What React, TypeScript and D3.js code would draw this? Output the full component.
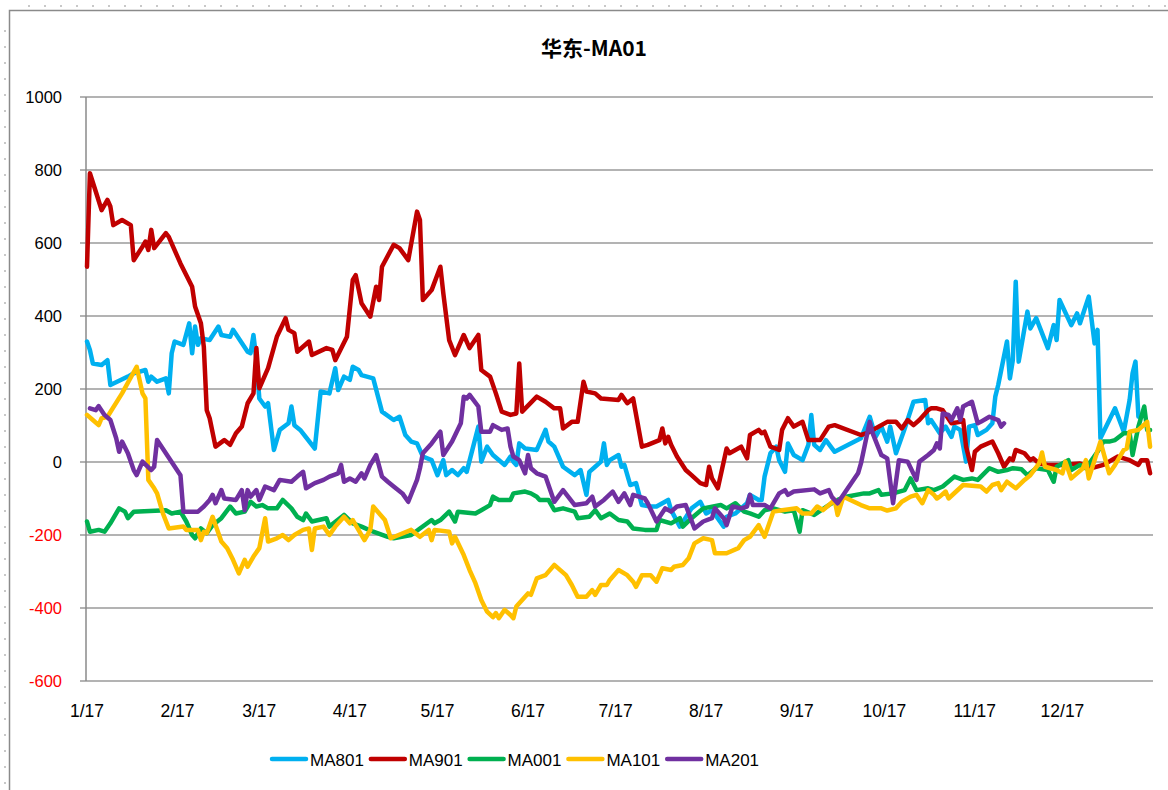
import React, { useEffect, useRef } from "react";
import * as d3 from "d3";

// day = days since 2017-01-01, value = spread
const ma801: [number, number][] = [
  [0, 330], [1, 307], [2, 270], [5, 266], [7, 279], [8, 211], [14, 234], [16, 243], [20, 252], [21, 220],
  [22, 234], [24, 220], [27, 229], [28, 188], [29, 298], [30, 330], [33, 321], [35, 380], [36, 298], [37, 371],
  [38, 321], [39, 339], [42, 334], [45, 371], [46, 348], [49, 343], [50, 362], [55, 302], [56, 298], [57, 348],
  [58, 279], [59, 174], [61, 152], [62, 161], [64, 33], [66, 88], [69, 106], [70, 152], [71, 101], [73, 88],
  [78, 37], [80, 193], [83, 188], [85, 257], [86, 197], [88, 234], [90, 225], [91, 261], [93, 252], [94, 238],
  [98, 229], [101, 138], [105, 115], [107, 124], [109, 74], [111, 56], [113, 51], [115, 15], [118, 5], [120, -36],
  [122, 5], [123, -36], [125, -22], [127, -36], [129, -17], [130, -27], [134, 97], [135, 1], [137, 42], [139, 19],
  [143, -8], [145, 15], [146, 1], [147, -8], [148, 51], [150, 37], [154, 33], [157, 88], [158, 56], [160, 42],
  [163, -13], [167, -36], [169, -22], [171, -90], [172, -27], [174, -13], [176, 1], [177, 51], [178, -8], [179, 5],
  [182, 19], [183, -13], [184, -8], [186, -63], [188, -58], [190, -118], [193, -122], [195, -122], [199, -104], [200, -132],
  [203, -177], [207, -127], [210, -109], [212, -141], [214, -132], [218, -177], [219, -150], [222, -141], [226, -113], [227, -90],
  [230, -104], [231, -104], [232, -40], [234, 24], [236, 42], [237, 5], [239, -27], [240, 51], [242, 19], [245, 5],
  [247, 47], [248, 129], [249, 47], [251, 33], [253, 60], [256, 28], [265, 65], [268, 124], [270, 69], [272, 97],
  [274, 56], [275, 97], [277, 24], [280, 92], [283, 165], [287, 170], [288, 106], [289, 115], [292, 79], [294, 97],
  [296, 69], [297, 97], [299, 88], [301, 1], [302, 97], [304, 101], [305, 74], [308, 88], [310, 106], [311, 179],
  [312, 211], [315, 330], [316, 229], [317, 279], [318, 494], [319, 275], [322, 412], [323, 366], [325, 394], [329, 312],
  [331, 375], [332, 334], [333, 444], [337, 375], [339, 407], [340, 380], [343, 453], [345, 325], [346, 362], [347, 65],
  [352, 147], [355, 83], [357, 170], [358, 243], [359, 275], [360, 124],
];

const ma901: [number, number][] = [
  [0, 535], [1, 791], [3, 741], [5, 690], [7, 718], [8, 700], [9, 649], [12, 663], [15, 649], [16, 553],
  [19, 590], [20, 604], [21, 581], [22, 636], [23, 586], [27, 627], [28, 617], [32, 544], [36, 480], [37, 426],
  [39, 380], [40, 316], [41, 142], [42, 120], [44, 42], [47, 60], [49, 47], [51, 79], [53, 97], [55, 161],
  [57, 188], [58, 312], [59, 202], [62, 257], [65, 343], [68, 394], [69, 362], [71, 353], [72, 302], [76, 330],
  [77, 293], [82, 312], [84, 307], [85, 279], [89, 343], [91, 499], [92, 512], [94, 435], [97, 398], [99, 480],
  [100, 444], [101, 535], [105, 595], [107, 586], [110, 553], [113, 686], [114, 663], [115, 444], [118, 471], [121, 535],
  [122, 462], [124, 334], [126, 293], [129, 348], [131, 312], [134, 348], [135, 252], [138, 234], [140, 188], [142, 138],
  [145, 129], [147, 133], [148, 270], [149, 138], [154, 179], [157, 165], [160, 147], [162, 147], [163, 92], [166, 110],
  [168, 110], [170, 220], [171, 193], [174, 188], [176, 174], [182, 170], [183, 184], [185, 161], [187, 174], [190, 42],
  [192, 47], [196, 60], [197, 92], [198, 51], [199, 69], [200, 47], [202, 15], [205, -22], [207, -36], [210, -58],
  [212, -63], [213, -13], [214, -45], [216, -72], [219, 37], [220, 24], [224, 42], [226, 10], [227, 74], [230, 88],
  [231, 79], [232, 83], [234, 42], [237, 33], [238, 88], [240, 120], [242, 97], [245, 110], [247, 60], [251, 60],
  [254, 97], [256, 101], [265, 74], [267, 79], [274, 110], [277, 110], [279, 92], [281, 115], [283, 101], [285, 115],
  [288, 142], [289, 147], [291, 147], [293, 142], [296, 106], [299, 110], [300, 115], [301, 42], [303, -22], [304, 28],
  [306, 42], [310, 56], [312, 24], [314, -13], [316, 10], [317, 5], [318, 33], [321, 24], [323, 5], [324, 10],
  [326, -4], [329, -8], [334, -8], [340, -4], [344, -17], [348, -8], [353, 15], [357, 5], [360, -8], [361, 5],
  [363, 5], [364, -31],
];

const ma001: [number, number][] = [
  [0, -163], [1, -191], [4, -186], [6, -191], [8, -168], [11, -127], [13, -136], [14, -154], [16, -136], [27, -132],
  [29, -141], [32, -136], [34, -163], [36, -200], [37, -209], [39, -182], [41, -195], [43, -173], [46, -154], [49, -122],
  [51, -141], [54, -136], [56, -109], [58, -122], [60, -118], [62, -127], [65, -127], [67, -104], [70, -127], [72, -150],
  [74, -159], [75, -141], [77, -163], [82, -154], [83, -177], [88, -145], [91, -168], [94, -177], [98, -191], [103, -205],
  [105, -209], [111, -200], [114, -182], [118, -159], [119, -168], [121, -159], [124, -136], [126, -163], [127, -136], [133, -141],
  [135, -132], [138, -118], [139, -95], [141, -104], [145, -104], [146, -86], [150, -81], [152, -86], [154, -95], [155, -104],
  [158, -104], [160, -132], [163, -127], [167, -136], [168, -154], [172, -150], [174, -132], [176, -154], [179, -141], [182, -159],
  [185, -163], [187, -182], [191, -186], [195, -186], [196, -159], [200, -168], [203, -154], [204, -177], [207, -154], [211, -127],
  [217, -118], [219, -127], [222, -113], [225, -136], [227, -141], [230, -150], [232, -132], [235, -127], [239, -136], [242, -132],
  [244, -191], [245, -132], [249, -145], [254, -118], [257, -104], [260, -95], [266, -86], [268, -86], [271, -77], [272, -90],
  [276, -86], [280, -77], [282, -45], [284, -77], [288, -72], [290, -77], [293, -67], [297, -40], [300, -49], [303, -45],
  [305, -49], [309, -17], [312, -27], [315, -22], [317, -17], [320, -20], [322, -36], [325, -17], [329, -22], [331, -54],
  [332, -13], [336, 5], [337, -22], [340, -8], [342, -17], [344, 5], [346, 28], [348, 56], [350, 56], [352, 60],
  [355, 79], [357, 79], [358, 19], [360, 97], [362, 152], [363, 88], [364, 88],
];

const ma101: [number, number][] = [
  [0, 129], [2, 115], [4, 101], [5, 120], [7, 124], [12, 188], [17, 261], [18, 225], [19, 188], [20, 174],
  [21, -49], [23, -72], [24, -86], [26, -141], [28, -182], [33, -177], [34, -186], [38, -186], [39, -214], [40, -191],
  [41, -195], [43, -150], [45, -195], [46, -218], [48, -236], [50, -268], [52, -305], [54, -268], [55, -287], [57, -259],
  [59, -236], [61, -154], [62, -218], [65, -209], [67, -200], [69, -214], [71, -200], [74, -186], [76, -182], [77, -241],
  [78, -182], [81, -177], [83, -200], [85, -177], [88, -150], [90, -168], [91, -159], [95, -214], [97, -186], [98, -122],
  [102, -159], [104, -209], [111, -186], [114, -205], [117, -186], [118, -214], [119, -186], [124, -191], [125, -223], [126, -205],
  [129, -255], [131, -296], [133, -332], [135, -378], [137, -410], [139, -425], [140, -414], [141, -428], [143, -405], [145, -419],
  [146, -428], [147, -396], [151, -360], [152, -364], [154, -319], [157, -310], [160, -282], [164, -310], [166, -337], [168, -369],
  [171, -369], [173, -351], [174, -364], [176, -337], [178, -337], [179, -323], [182, -296], [185, -310], [187, -328], [188, -342],
  [190, -310], [193, -310], [195, -328], [197, -291], [200, -296], [201, -287], [204, -282], [206, -264], [208, -223], [211, -209],
  [214, -214], [215, -250], [219, -250], [223, -236], [225, -214], [227, -205], [230, -173], [232, -205], [235, -136], [238, -132],
  [243, -127], [245, -141], [248, -141], [250, -122], [252, -132], [256, -104], [257, -145], [259, -95], [265, -118], [268, -127],
  [272, -127], [274, -133], [277, -127], [279, -109], [282, -95], [284, -90], [286, -113], [288, -77], [290, -90], [291, -100],
  [292, -95], [294, -81], [295, -100], [300, -63], [306, -67], [308, -81], [310, -63], [312, -58], [313, -77], [315, -54],
  [318, -72], [321, -49], [323, -36], [326, -4], [327, 26], [328, -13], [332, -22], [334, -31], [335, 1], [337, -45],
  [341, -17], [342, 5], [343, -45], [345, 5], [347, 56], [350, -31], [352, -8], [355, 33], [356, 37], [357, 83],
  [360, 88], [363, 110], [364, 42],
];

const ma201: [number, number][] = [
  [1, 147], [3, 142], [4, 153], [6, 129], [8, 115], [10, 65], [11, 28], [12, 56], [14, 24], [16, -22],
  [17, -36], [19, 1], [22, -22], [23, -13], [24, 60], [32, -36], [33, -136], [38, -136], [40, -122], [42, -104],
  [43, -90], [44, -113], [46, -77], [47, -100], [51, -104], [53, -77], [54, -132], [55, -77], [56, -95], [58, -77],
  [59, -104], [61, -67], [64, -77], [66, -49], [70, -54], [72, -40], [74, -27], [75, -72], [78, -58], [81, -49],
  [83, -40], [86, -31], [87, -8], [88, -54], [90, -45], [92, -54], [94, -31], [95, -45], [97, -8], [99, 19],
  [101, -40], [103, -54], [105, -67], [108, -86], [110, -109], [113, -49], [114, -17], [115, 24], [117, 42], [118, 51],
  [121, 83], [122, 19], [125, 56], [128, 106], [129, 179], [130, 174], [131, 184], [134, 152], [135, 83], [138, 83],
  [139, 101], [142, 88], [144, 92], [145, 42], [146, 15], [148, 5], [150, -31], [151, 19], [152, -17], [154, -31],
  [157, -40], [160, -109], [163, -77], [167, -118], [171, -113], [173, -95], [174, -122], [177, -104], [180, -81], [182, -109],
  [184, -86], [186, -118], [187, -90], [191, -100], [192, -113], [195, -163], [198, -127], [200, -136], [202, -122], [205, -118],
  [208, -182], [211, -163], [214, -154], [215, -127], [218, -154], [219, -173], [221, -122], [224, -127], [226, -122], [227, -90],
  [228, -118], [232, -118], [234, -127], [237, -86], [239, -77], [240, -90], [242, -81], [249, -75], [251, -86], [254, -77],
  [255, -95], [257, -113], [264, -31], [265, -4], [268, 110], [269, 79], [272, 19], [274, 10], [276, -113], [278, 5],
  [281, 1], [284, -49], [285, 1], [288, 19], [290, 33], [291, 51], [292, 37], [293, 133], [295, 129], [296, 115],
  [298, 147], [299, 115], [300, 152], [303, 165], [305, 106], [306, 110], [309, 124], [312, 115], [313, 97], [314, 106],
];

const seriesNames = ["MA801", "MA901", "MA001", "MA101", "MA201"];
const seriesData = [ma801, ma901, ma001, ma101, ma201];
const seriesColors = ["#00B0F0", "#C00000", "#00B050", "#FFC000", "#7030A0"];
const yTicks = [-600, -400, -200, 0, 200, 400, 600, 800, 1000];
const monthTicks = d3.range(0, 12).map((m) => new Date(2017, m, 1));

const W = 1168;
const H = 790;

export default function App() {
  const ref = useRef<SVGSVGElement>(null);

  useEffect(() => {
    const svg = d3.select(ref.current);
    svg.selectAll("*").remove();

    const x = d3
      .scaleTime()
      .domain([new Date(2017, 0, 1), new Date(2018, 0, 1)])
      .range([87, 1153]);
    const y = d3.scaleLinear().domain([-600, 1000]).range([681, 97]);
    const toDate = (d: number) => d3.timeDay.offset(new Date(2017, 0, 1), d);

    svg.append("rect").attr("width", W).attr("height", H).attr("fill", "#fff");

    // worksheet dots around the chart
    svg
      .append("line")
      .attr("x1", 28).attr("x2", W).attr("y1", 6).attr("y2", 6)
      .attr("stroke", "#c8c8c8").attr("stroke-width", 2).attr("stroke-dasharray", "2 14");
    svg
      .append("line")
      .attr("x1", 5).attr("x2", 5).attr("y1", 30).attr("y2", H)
      .attr("stroke", "#c8c8c8").attr("stroke-width", 2).attr("stroke-dasharray", "2 14");

    // chart frame
    svg
      .append("rect")
      .attr("x", 9.5).attr("y", 10.5).attr("width", W + 20).attr("height", H + 20)
      .attr("fill", "none").attr("stroke", "#8a8a8a").attr("stroke-width", 1.5);

    // title
    svg
      .append("text")
      .attr("x", 594).attr("y", 56)
      .attr("text-anchor", "middle")
      .style("font-family", "'Noto Sans CJK SC', 'Liberation Sans', sans-serif")
      .style("font-weight", "bold")
      .style("font-size", "21px")
      .text("华东-MA01");

    // gridlines + y labels
    const gy = svg.append("g");
    yTicks.forEach((t) => {
      gy.append("line")
        .attr("x1", 80).attr("x2", 1153)
        .attr("y1", y(t)).attr("y2", y(t))
        .attr("stroke", "#9a9a9a").attr("stroke-width", 1.5);
      gy.append("text")
        .attr("x", 62).attr("y", y(t) + 6)
        .attr("text-anchor", "end")
        .style("font-family", "'Liberation Sans', Arial, sans-serif")
        .style("font-size", "16.5px")
        .attr("fill", t < 0 ? "#FF0000" : "#000")
        .text(t);
    });

    // y axis line
    svg
      .append("line")
      .attr("x1", 86).attr("x2", 86).attr("y1", y(1000)).attr("y2", y(-600))
      .attr("stroke", "#8a8a8a").attr("stroke-width", 1.5);

    // x labels
    const fmt = d3.timeFormat("%-m/%y");
    svg
      .append("g")
      .selectAll("text")
      .data(monthTicks)
      .enter()
      .append("text")
      .attr("x", (d) => x(d))
      .attr("y", 717)
      .attr("text-anchor", "middle")
      .style("font-family", "'Liberation Sans', Arial, sans-serif")
      .style("font-size", "17.5px")
      .text((d) => fmt(d));

    // series
    const line = d3
      .line<[number, number]>()
      .x((d) => x(toDate(d[0])))
      .y((d) => y(d[1]));

    seriesData.forEach((data, i) => {
      svg
        .append("path")
        .datum(data)
        .attr("d", line)
        .attr("fill", "none")
        .attr("stroke", seriesColors[i])
        .attr("stroke-width", 4.5)
        .attr("stroke-linejoin", "round")
        .attr("stroke-linecap", "round");
    });

    // legend
    const lg = svg.append("g");
    seriesNames.forEach((name, i) => {
      const lx = 272 + i * 98.8;
      lg.append("line")
        .attr("x1", lx).attr("x2", lx + 34)
        .attr("y1", 759).attr("y2", 759)
        .attr("stroke", seriesColors[i])
        .attr("stroke-width", 4.5)
        .attr("stroke-linecap", "round");
      lg.append("text")
        .attr("x", lx + 38).attr("y", 765.5)
        .style("font-family", "'Liberation Sans Narrow', 'Liberation Sans', Arial, sans-serif")
        .style("font-size", "17px")
        .text(name);
    });
  }, []);

  return (
    <svg
      ref={ref}
      width={W}
      height={H}
      style={{ position: "absolute", left: 0, top: 0, display: "block" }}
    />
  );
}
